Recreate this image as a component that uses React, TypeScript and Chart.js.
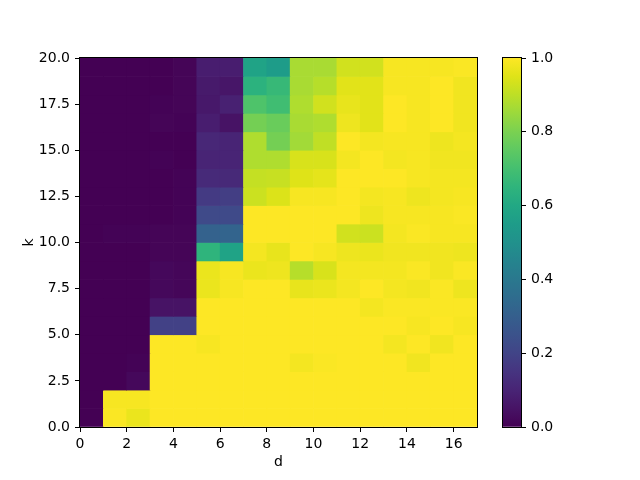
import React, { useEffect, useRef } from "react";
import { Chart, registerables } from "chart.js";
Chart.register(...registerables);

// column starts (d) and row starts (k)
const dStarts = [0, 1, 2, 3, 4, 5, 6, 7, 8, 9, 10, 11, 12, 13, 14, 15, 16];
const kStarts = [0, 1, 2, 3, 4, 5, 6, 7, 8, 9, 10, 11, 12, 13, 14, 15, 16, 17, 18, 19];
const xTicks = [0, 2, 4, 6, 8, 10, 12, 14, 16];
const yTicks = [0, 2.5, 5, 7.5, 10, 12.5, 15, 17.5, 20];
const cbTicks = [0, 0.2, 0.4, 0.6, 0.8, 1.0];

// cell values, one array per k row (index = d)
const row_k0 = [0, 0.995, 0.97, 1, 1, 1, 1, 1, 1, 1, 1, 1, 1, 1, 1, 1, 1];
const row_k1 = [0, 0.99, 0.99, 1, 1, 1, 1, 1, 1, 1, 1, 1, 1, 1, 1, 1, 1];
const row_k2 = [0, 0, 0.02, 1, 1, 1, 1, 1, 1, 1, 1, 1, 1, 1, 1, 1, 1];
const row_k3 = [0, 0, 0.005, 1, 1, 1, 1, 1, 1, 0.985, 0.995, 1, 1, 1, 0.98, 1, 1];
const row_k4 = [0, 0, 0, 1, 1, 0.99, 1, 1, 1, 1, 1, 1, 1, 0.985, 1, 0.98, 1];
const row_k5 = [0, 0, 0, 0.19, 0.19, 1, 1, 1, 1, 1, 1, 1, 1, 1, 0.99, 1, 0.99];
const row_k6 = [0, 0, 0, 0.05, 0.05, 1, 1, 1, 1, 1, 1, 1, 0.985, 0.995, 0.995, 0.995, 0.995];
const row_k7 = [0, 0, 0, 0.02, 0.015, 0.97, 0.99, 1, 1, 0.965, 0.97, 0.985, 1, 0.985, 0.98, 0.995, 0.975];
const row_k8 = [0, 0, 0, 0.02, 0.015, 0.97, 0.99, 0.97, 0.975, 0.89, 0.94, 0.985, 0.985, 0.985, 0.995, 0.98, 0.995];
const row_k9 = [0, 0, 0, 0.01, 0.01, 0.65, 0.58, 0.985, 0.965, 1, 0.99, 0.975, 0.97, 0.98, 0.98, 0.98, 0.975];
const row_k10 = [0, 0.005, 0.005, 0.01, 0.01, 0.31, 0.32, 1, 1, 1, 1, 0.93, 0.92, 0.985, 0.995, 0.99, 0.99];
const row_k11 = [0, 0, 0, 0, 0.005, 0.22, 0.22, 1, 1, 1, 1, 1, 0.975, 0.99, 0.99, 0.99, 0.995];
const row_k12 = [0, 0, 0, 0, 0.005, 0.17, 0.18, 0.92, 0.945, 0.99, 0.99, 1, 0.985, 0.99, 0.975, 0.985, 0.99];
const row_k13 = [0, 0, 0, 0, 0.005, 0.12, 0.115, 0.91, 0.915, 0.95, 0.96, 1, 1, 1, 0.99, 0.985, 0.985];
const row_k14 = [0, 0, 0, 0.005, 0, 0.1, 0.1, 0.88, 0.88, 0.94, 0.94, 0.985, 1, 0.985, 0.99, 0.98, 0.98];
const row_k15 = [0, 0, 0, 0, 0, 0.11, 0.1, 0.88, 0.79, 0.86, 0.905, 1, 0.985, 0.99, 0.99, 0.975, 0.985];
const row_k16 = [0, 0, 0, 0.01, 0.005, 0.08, 0.05, 0.79, 0.77, 0.87, 0.88, 0.975, 0.955, 1, 0.99, 1, 0.98];
const row_k17 = [0, 0, 0, 0.005, 0.01, 0.065, 0.09, 0.72, 0.69, 0.88, 0.93, 0.965, 0.955, 1, 0.99, 1, 0.98];
const row_k18 = [0, 0, 0, 0, 0.01, 0.07, 0.06, 0.64, 0.67, 0.87, 0.89, 0.955, 0.955, 0.99, 0.99, 1, 0.98];
const row_k19 = [0, 0, 0, 0, 0.01, 0.08, 0.08, 0.58, 0.55, 0.87, 0.87, 0.93, 0.93, 0.99, 0.99, 0.99, 0.995];

const grid = [
  row_k0, row_k1, row_k2, row_k3, row_k4, row_k5, row_k6, row_k7, row_k8, row_k9,
  row_k10, row_k11, row_k12, row_k13, row_k14, row_k15, row_k16, row_k17, row_k18, row_k19,
];

const VIRIDIS = [
  "#440154", "#471365", "#482475", "#463480", "#414487", "#3b528b", "#355f8d",
  "#2f6c8e", "#2a788e", "#25848e", "#21918c", "#1e9c89", "#22a884", "#2fb47c",
  "#44bf70", "#5ec962", "#7ad151", "#9bd93c", "#bddf26", "#dfe318", "#fde725",
];

function hexToRgb(h: string) {
  return [parseInt(h.slice(1, 3), 16), parseInt(h.slice(3, 5), 16), parseInt(h.slice(5, 7), 16)];
}

function viridis(v: number) {
  const t = Math.max(0, Math.min(1, v)) * (VIRIDIS.length - 1);
  const i = Math.min(Math.floor(t), VIRIDIS.length - 2);
  const f = t - i;
  const a = hexToRgb(VIRIDIS[i]);
  const b = hexToRgb(VIRIDIS[i + 1]);
  const c = a.map((x, j) => Math.round(x + (b[j] - x) * f));
  return `rgb(${c[0]},${c[1]},${c[2]})`;
}

const FONT = "'DejaVu Sans', sans-serif";

const framePlugin = {
  id: "frame",
  afterDraw(chart: any) {
    const { ctx, chartArea: a } = chart;
    ctx.save();
    ctx.strokeStyle = "#000";
    ctx.lineWidth = 1;
    ctx.strokeRect(a.left - 0.5, a.top - 0.5, a.right - a.left + 1, a.bottom - a.top + 1);
    ctx.restore();
  },
};

export default function App() {
  const mainRef = useRef<HTMLCanvasElement>(null);
  const cbRef = useRef<HTMLCanvasElement>(null);

  useEffect(() => {
    const cells: any[] = [];
    const colors: string[] = [];
    kStarts.forEach((k, ri) => {
      dStarts.forEach((d, ci) => {
        const v = grid[ri][ci];
        cells.push({ x: d + 0.5, y: [k, k + 1] });
        colors.push(viridis(v));
      });
    });

    const tickFont = { family: FONT, size: 14 };

    const main = new Chart(mainRef.current!, {
      type: "bar",
      data: {
        datasets: [
          {
            data: cells,
            backgroundColor: colors,
            borderWidth: 0,
            barPercentage: 1,
            categoryPercentage: 1,
          } as any,
        ],
      },
      options: {
        animation: false,
        responsive: false,
        events: [],
        layout: { padding: { left: 0, top: 58, right: 163, bottom: 0 } },
        plugins: { legend: { display: false }, tooltip: { enabled: false } },
        scales: {
          x: {
            type: "linear",
            min: 0,
            max: 17,
            offset: false,
            afterBuildTicks: (s: any) => {
              s.ticks = xTicks.map((v) => ({ value: v }));
            },
            afterFit: (s: any) => {
              s.height = 53;
            },
            grid: { display: true, drawOnChartArea: false, offset: false, tickLength: 5, color: "#000", tickColor: "#000" },
            border: { display: false },
            ticks: { color: "#000", font: tickFont, padding: 4, maxRotation: 0, callback: (v: any) => String(v) },
            title: { display: true, text: "d", color: "#000", font: { family: FONT, size: 14 }, padding: { top: 0, bottom: 9 } },
          },
          y: {
            type: "linear",
            min: 0,
            max: 20,
            afterBuildTicks: (s: any) => {
              s.ticks = yTicks.map((v) => ({ value: v }));
            },
            afterFit: (s: any) => {
              s.width = 80;
            },
            grid: { display: true, drawOnChartArea: false, tickLength: 5, color: "#000", tickColor: "#000" },
            border: { display: false },
            ticks: { color: "#000", font: tickFont, padding: 5, callback: (v: any) => Number(v).toFixed(1) },
            title: { display: true, text: "k", color: "#000", font: { family: FONT, size: 14 }, padding: { top: 21, bottom: 0 } },
          },
        },
      },
      plugins: [framePlugin],
    } as any);

    const cb = new Chart(cbRef.current!, {
      type: "bar",
      data: {
        labels: [""],
        datasets: [
          {
            data: [[0, 1]],
            borderWidth: 0,
            barPercentage: 1,
            categoryPercentage: 1,
            backgroundColor: (ctx: any) => {
              const area = ctx.chart.chartArea;
              if (!area) return viridis(0.5);
              const g = ctx.chart.ctx.createLinearGradient(0, area.bottom, 0, area.top);
              VIRIDIS.forEach((c, i) => g.addColorStop(i / (VIRIDIS.length - 1), c));
              return g;
            },
          } as any,
        ],
      },
      options: {
        animation: false,
        responsive: false,
        events: [],
        layout: { padding: { left: 503, top: 58, right: 0, bottom: 53 } },
        plugins: { legend: { display: false }, tooltip: { enabled: false } },
        scales: {
          x: { display: false },
          y: {
            position: "right",
            min: 0,
            max: 1,
            afterBuildTicks: (s: any) => {
              s.ticks = cbTicks.map((v) => ({ value: v }));
            },
            afterFit: (s: any) => {
              s.width = 119;
            },
            grid: { display: true, drawOnChartArea: false, tickLength: 5, color: "#000", tickColor: "#000" },
            border: { display: false },
            ticks: { color: "#000", font: tickFont, padding: 5, callback: (v: any) => Number(v).toFixed(1) },
          },
        },
      },
      plugins: [framePlugin],
    } as any);

    return () => {
      main.destroy();
      cb.destroy();
    };
  }, []);

  return (
    <div style={{ position: "fixed", left: 0, top: 0, width: 640, height: 480, background: "#fff" }}>
      <canvas ref={mainRef} width={640} height={480} style={{ position: "absolute", left: 0, top: 0 }} />
      <canvas ref={cbRef} width={640} height={480} style={{ position: "absolute", left: 0, top: 0 }} />
    </div>
  );
}
